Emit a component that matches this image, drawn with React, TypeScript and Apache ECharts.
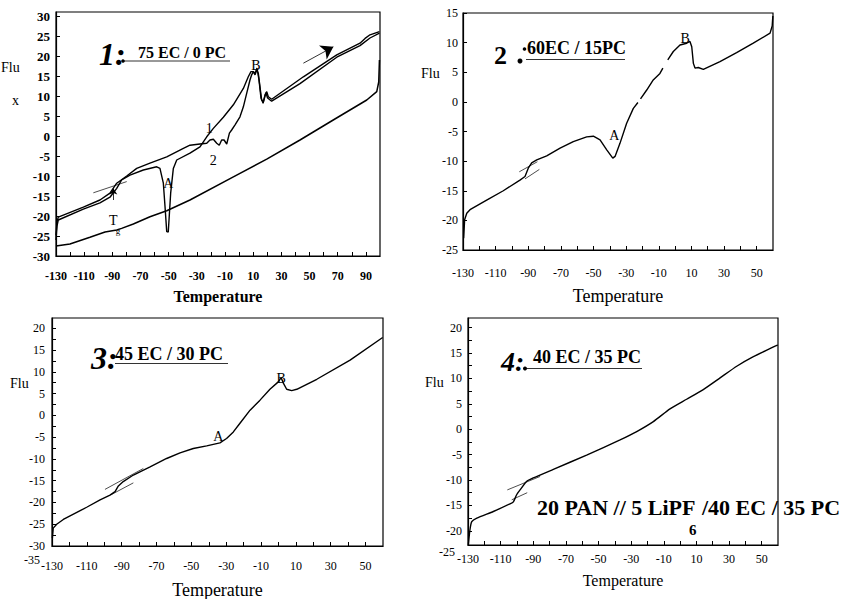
import React, { useEffect, useRef } from "react";
import * as echarts from "echarts";

const SERIF = '"Liberation Serif", "Times New Roman", serif';

// ---------- Panel 1: 75 EC / 0 PC ----------
const p1XLabels = [-130, -110, -90, -70, -50, -30, -10, 10, 30, 50, 70, 90];
const p1XTicks = [-120, -110, -100, -90, -80, -70, -60, -50, -40, -30, -20, -10, 0, 10, 20, 30, 40, 50, 60, 70, 80, 90];
const p1YLabels = [-30, -25, -20, -15, -10, -5, 0, 5, 10, 15, 20, 25, 30];
const p1Cooling = [
  [-130, -27.5], [-120.1, -27], [-105.9, -25.3], [-95.2, -24], [-86.9, -23.5], [-83.4, -23.1],
  [-75.1, -22], [-63.3, -20.2], [-51.4, -18.7], [-34.9, -16], [-4.1, -10.2], [19.6, -5.8],
  [43.2, -1], [66.8, 4], [90.6, 9], [97.7, 11.1], [99.1, 13.5], [99.6, 19],
];
const p1HeatNoA = [
  [-130, -24.8], [-129.3, -21.5], [-128.4, -20.3], [-110.6, -17.8], [-98.8, -16], [-91.7, -14.3],
  [-86.9, -11.8], [-79.8, -10], [-72.7, -8.1], [-63.3, -6.8], [-51.4, -5.2], [-39.6, -3.1],
  [-34.9, -2.3], [-27.8, -2], [-23, -1.8], [-20.7, -1], [-18.3, -0.8], [-15.9, -1.8], [-14.1, -2.3],
  [-12.4, -1], [-10.7, -1], [-8.8, -2], [-6.9, 0.7], [-5.3, 1.5], [-2.9, 2.8], [0.6, 4.8], [3, 7.3],
  [5.4, 10.7], [7.7, 14], [8.9, 15.3], [10.1, 16.1], [11.3, 15.3], [12.5, 16.5], [13.6, 15.7],
  [14.8, 12.3], [16, 9], [17.2, 8.6], [18.4, 10.3], [19.6, 11.1], [20.7, 9.8], [23.1, 9.2],
  [45.6, 14.8], [69.3, 20.3], [85.8, 23.2], [89.4, 24.4], [92.9, 25.3], [99.6, 26.1],
];
const p1HeatA = [
  [-130, -26], [-129.3, -22.5], [-128.4, -21], [-110.6, -18.3], [-98.8, -16.7], [-91.7, -15.3],
  [-86.9, -13.1], [-83.4, -11], [-77.5, -9.8], [-68, -8.5], [-58.5, -7.7], [-56.2, -8.1],
  [-53.8, -11.8], [-52.6, -17.7], [-51.4, -23.9], [-50.3, -24], [-48.6, -14.3], [-46.7, -8.1],
  [-44.3, -6], [-34.9, -4.3], [-27.8, -2.7], [-23, -0.2], [-18.3, 1.9], [-11.2, 4.7], [-4.1, 7.8],
  [3, 11.9], [6.5, 14.8], [8.4, 16.1], [10.1, 16.1], [11.3, 15.6], [12.7, 17], [14.1, 14],
  [15.5, 9.5], [17, 8.2], [19, 10.8], [20.2, 9.5], [23.1, 8.7], [43.2, 13.1], [69.3, 19.7],
  [85.8, 22.6], [92.9, 24.5], [99.6, 25.7],
];
const p1Tangent = [[-103.5, -14.2], [-79.8, -11.4]];
const p1BigArrow = [[45.6, 18.2], [66.9, 22.3]];
const p1SmallArrow = [[-89.3, -16], [-89.3, -13.1]];
const p1Notes = [
  [-50.3, -11.8, "A"], [12, 17.75, "B"], [-21.2, 1.9, "1"], [-18.3, -6, "2"], [-89.3, -21, "T"],
];
const p1SubNotes = [[-86, -23.7, "g"]];

// ---------- Panel 2: 60EC / 15PC ----------
const p2XLabels = [-130, -110, -90, -70, -50, -30, -10, 10, 30, 50];
const p2XTicks = [-120, -110, -100, -90, -80, -70, -60, -50, -40, -30, -20, -10, 0, 10, 20, 30, 40, 50];
const p2YLabels = [-25, -20, -15, -10, -5, 0, 5, 10, 15];
const p2Curve = [
  [-129.6, -23], [-129, -19.9], [-127.7, -18.8], [-125.7, -18.2], [-115.5, -16.6], [-105.3, -15],
  [-95.1, -13.2], [-92, -12.6], [-90, -11.2], [-87.9, -10.3], [-84.8, -9.8], [-78.7, -9.1],
  [-70.5, -7.8], [-62.4, -6.7], [-54.2, -5.9], [-50.1, -5.8], [-46, -6.4], [-41.9, -8.1],
  [-38.2, -9.5], [-36.8, -9.2], [-33.8, -7], [-29.7, -3.6], [-25.6, -1.1], [-22.8, -0.1],
  [-22, null], [-21.2, 0.5], [-17.4, 2], [-13.4, 3.7], [-9.3, 4.8], [-7.5, 5.7], [-6, null],
  [-4.5, 7.1], [-1.1, 8.5], [3, 9.6], [7.1, 9.9], [9.1, 10.2], [10.2, 9.3], [11.2, 6.5],
  [12.2, 5.7], [14.2, 5.8], [17.3, 5.5], [27.5, 6.8], [37.7, 8.3], [47.9, 9.9], [58.2, 11.6],
  [59.5, 12.8], [59.9, 14.5],
];
const p2TangentUp = [[-95.5, -11.8], [-84.4, -10.1]];
const p2TangentLow = [[-92, -13], [-83.2, -11.4]];
const p2Notes = [[-37.3, -5.6, "A"], [6.1, 10.7, "B"]];

// ---------- Panel 3: 45 EC / 30 PC ----------
const p3XLabels = [-130, -110, -90, -70, -50, -30, -10, 10, 30, 50];
const p3XTicks = [-120, -110, -100, -90, -80, -70, -60, -50, -40, -30, -20, -10, 0, 10, 20, 30, 40, 50];
const p3YLabels = [-30, -25, -20, -15, -10, -5, 0, 5, 10, 15, 20];
const p3YTicks = [-27.5, -25, -22.5, -20, -17.5, -15, -12.5, -10, -7.5, -5, -2.5, 0, 2.5, 5, 7.5, 10, 12.5, 15, 17.5, 20];
const p3Curve = [
  [-129.8, -28.2], [-129.3, -25.9], [-127.3, -25], [-123.5, -23.9], [-110.1, -21.1], [-102.4, -19.4],
  [-96.7, -18.3], [-93.8, -17.5], [-91.9, -16.2], [-89.1, -15.2], [-83.3, -13.7], [-73.7, -11.8],
  [-64.2, -9.9], [-56.5, -8.6], [-48.9, -7.6], [-41.2, -7], [-33.6, -6.3], [-29.8, -5.3],
  [-25.9, -3.8], [-22.1, -1.8], [-16.3, 1.2], [-10.6, 3.5], [-4.9, 6], [-0.1, 7.7], [1.5, 8.7],
  [2.8, 7.4], [4.7, 6], [7.6, 5.7], [10.5, 6], [22, 8.3], [41.1, 12.7], [59.8, 17.9],
];
const p3TangentUp = [[-99.6, -17], [-77.6, -12.2]];
const p3TangentLow = [[-96, -18.2], [-83.3, -15.5]];
const p3Notes = [[-34.5, -4.9, "A"], [1.5, 8.5, "B"]];

// ---------- Panel 4: 40 EC / 35 PC ----------
const p4XLabels = [-130, -110, -90, -70, -50, -30, -10, 10, 30, 50];
const p4XTicks = [-120, -110, -100, -90, -80, -70, -60, -50, -40, -30, -20, -10, 0, 10, 20, 30, 40, 50];
const p4YLabels = [-20, -15, -10, -5, 0, 5, 10, 15, 20];
const p4YTicks = [-20, -17.5, -15, -12.5, -10, -7.5, -5, -2.5, 0, 2.5, 5, 7.5, 10, 12.5, 15, 17.5, 20];
const p4Curve = [
  [-129.8, -22.8], [-128.8, -19.8], [-127.7, -18.2], [-124.6, -17.5], [-114.5, -16.2], [-104.3, -14.7],
  [-102.2, -14.3], [-100.2, -12.9], [-98.1, -11.95], [-94.1, -10.3], [-90, -9.6], [-77.7, -7.9],
  [-57.3, -5.1], [-36.8, -2.1], [-26.6, -0.46], [-16.4, 1.5], [-6.2, 4.0], [4, 5.9], [14.2, 7.8],
  [24.5, 10.1], [34.7, 12.4], [44.9, 14.3], [59.8, 16.6],
];
const p4TangentUp = [[-105.9, -11.95], [-85.8, -9.3]];
const p4TangentLow = [[-103.2, -13.9], [-93.7, -12.5]];

const grids = [
  { left: 56, top: 12, width: 324, height: 244 },
  { left: 463, top: 13, width: 310, height: 237 },
  { left: 52, top: 318, width: 331, height: 228 },
  { left: 468, top: 318, width: 310, height: 227 },
];

function xAxis(gi: number, min: number, max: number, labels: number[], ticks: number[], margin: number,
  nameGap: number, labelBold: boolean, nameSize: number, nameBold: boolean) {
  return {
    type: "value", gridIndex: gi, min, max,
    axisLine: { show: true, onZero: false, lineStyle: { color: "#000", width: 1.2 } },
    axisTick: { show: true, inside: true, length: 4, customValues: ticks, lineStyle: { color: "#000", width: 1 } },
    axisLabel: {
      customValues: labels, margin, color: "#000", fontFamily: SERIF, fontSize: 12,
      fontWeight: labelBold ? "bold" : "normal",
    },
    splitLine: { show: false },
    name: "Temperature", nameLocation: "middle", nameGap,
    nameTextStyle: { color: "#000", fontFamily: SERIF, fontSize: nameSize, fontWeight: nameBold ? "bold" : "normal" },
  };
}

function yAxis(gi: number, min: number, max: number, labels: number[], ticks: number[], margin: number, labelBold: boolean, size: number) {
  return {
    type: "value", gridIndex: gi, min, max,
    axisLine: { show: true, onZero: false, lineStyle: { color: "#000", width: 1.2 } },
    axisTick: { show: true, inside: true, length: 4, customValues: ticks, lineStyle: { color: "#000", width: 1 } },
    axisLabel: {
      customValues: labels, margin, color: "#000", fontFamily: SERIF, fontSize: size,
      fontWeight: labelBold ? "bold" : "normal",
    },
    splitLine: { show: false },
  };
}

function line(data: any[], gi: number, width: number, extra: any = {}) {
  return {
    type: "line", xAxisIndex: gi, yAxisIndex: gi, data, showSymbol: false, symbol: "none",
    silent: true, connectNulls: false, lineStyle: { color: "#000", width }, z: 3, ...extra,
  };
}

function notes(list: any[], gi: number, size: number) {
  return {
    type: "scatter", xAxisIndex: gi, yAxisIndex: gi, symbolSize: 0, silent: true,
    itemStyle: { color: "#000", opacity: 1 },
    data: list.map((n) => ({ name: n[2], value: [n[0], n[1]] })),
    label: {
      show: true, position: "inside", formatter: "{b}", color: "#000", opacity: 1,
      textBorderWidth: 0, fontFamily: SERIF, fontSize: size,
    },
    z: 5,
  };
}

function arrowLine(pts: number[][], size: number) {
  return [{ coord: pts[0], symbol: "none" }, { coord: pts[1], symbol: "arrow", symbolSize: size }];
}

function txt(text: string, x: number, y: number, font: string, align = "left") {
  return {
    type: "text", x, y, silent: true,
    style: { text, font, fill: "#000", align, verticalAlign: "middle", textAlign: align, textVerticalAlign: "middle" },
  };
}
function hline(x1: number, x2: number, y: number) {
  return { type: "line", silent: true, shape: { x1, y1: y, x2, y2: y }, style: { stroke: "#333", lineWidth: 1 } };
}
function dot(cx: number, cy: number, r: number) {
  return { type: "circle", silent: true, shape: { cx, cy, r }, style: { fill: "#000" } };
}

export default function App() {
  const ref = useRef<HTMLDivElement>(null);
  useEffect(() => {
    if (!ref.current) return;
    const chart = echarts.init(ref.current, null, { renderer: "svg" });
    const option: any = {
      animation: false,
      backgroundColor: "#fff",
      grid: grids.map((g) => ({
        ...g, show: true, borderColor: "#000", borderWidth: 1.2, backgroundColor: "transparent",
        containLabel: false, outerBoundsMode: "none",
      })),
      xAxis: [
        xAxis(0, -130, 100, p1XLabels, p1XTicks, 14, 32, true, 16, true),
        xAxis(1, -130, 60, p2XLabels, p2XTicks, 17, 37, false, 18, false),
        xAxis(2, -130, 60, p3XLabels, p3XTicks, 14, 35, false, 18, false),
        xAxis(3, -130, 60, p4XLabels, p4XTicks, 8, 27, false, 16, false),
      ],
      yAxis: [
        yAxis(0, -30, 31, p1YLabels, p1YLabels, 6, true, 13),
        yAxis(1, -25, 15, p2YLabels, p2YLabels, 5, false, 12),
        yAxis(2, -30, 22.37, p3YLabels, p3YTicks, 7, false, 12),
        yAxis(3, -22.8, 21.9, p4YLabels, p4YTicks, 6, false, 12),
      ],
      series: [
        line(p1Cooling, 0, 1.5),
        line(p1HeatNoA, 0, 1.4),
        line(p1HeatA, 0, 1.4),
        line(p1Tangent, 0, 0.7, {
          markLine: {
            silent: true, symbol: ["none", "arrow"],
            lineStyle: { color: "#000", width: 0.8, type: "solid" },
            label: { show: false },
            data: [arrowLine(p1BigArrow, 12), arrowLine(p1SmallArrow, 6)],
          },
        }),
        notes(p1Notes, 0, 14),
        notes(p1SubNotes, 0, 9),
        line(p2Curve, 1, 1.4),
        line(p2TangentUp, 1, 0.7),
        line(p2TangentLow, 1, 0.7),
        notes(p2Notes, 1, 14),
        line(p3Curve, 2, 1.4),
        line(p3TangentUp, 2, 0.7),
        line(p3TangentLow, 2, 0.7),
        notes(p3Notes, 2, 14),
        line(p4Curve, 3, 1.4, { smooth: 0.2 }),
        line(p4TangentUp, 3, 0.7),
        line(p4TangentLow, 3, 0.7),
      ],
      graphic: [
        // panel 1
        txt("1:", 99, 54, `italic bold 32px ${SERIF}`),
        txt("75 EC / 0 PC", 138, 52, `bold 16px ${SERIF}`),
        hline(122, 230, 61), dot(123, 61, 1.8),
        txt("Flu", 1, 67, `14px ${SERIF}`),
        txt("x", 12, 100, `14px ${SERIF}`),
        // panel 2
        txt("2", 494, 55, `bold 26px ${SERIF}`),
        dot(520, 61, 2.5), dot(524.5, 49, 1.8),
        txt("60EC / 15PC", 527, 48, `bold 18px ${SERIF}`),
        hline(526, 625, 59.5),
        txt("Flu", 421, 73, `14px ${SERIF}`),
        // panel 3
        txt("3:", 91, 358, `italic bold 32px ${SERIF}`),
        txt("45 EC / 30 PC", 115, 354, `bold 18px ${SERIF}`),
        hline(115, 228, 363.5),
        txt("Flu", 10, 383, `14px ${SERIF}`),
        txt("-35", 40, 560, `12px ${SERIF}`, "right"),
        // panel 4
        txt("4:", 501, 361, `italic bold 28px ${SERIF}`),
        txt("40 EC / 35 PC", 533, 356.5, `bold 18px ${SERIF}`),
        hline(523, 642, 368.5), dot(525, 368.5, 2),
        txt("Flu", 425, 382, `14px ${SERIF}`),
        txt("-25", 455, 552, `12px ${SERIF}`, "right"),
        txt("20 PAN // 5 LiPF", 537, 507, `bold 22px ${SERIF}`),
        txt("6", 689, 530, `bold 15px ${SERIF}`),
        txt("/40 EC / 35 PC", 702, 507, `bold 22px ${SERIF}`),
      ],
    };
    chart.setOption(option);
    return () => chart.dispose();
  }, []);
  return (
    <div
      ref={ref}
      style={{ position: "absolute", left: 0, top: 0, width: 843, height: 599, background: "#fff" }}
    />
  );
}
